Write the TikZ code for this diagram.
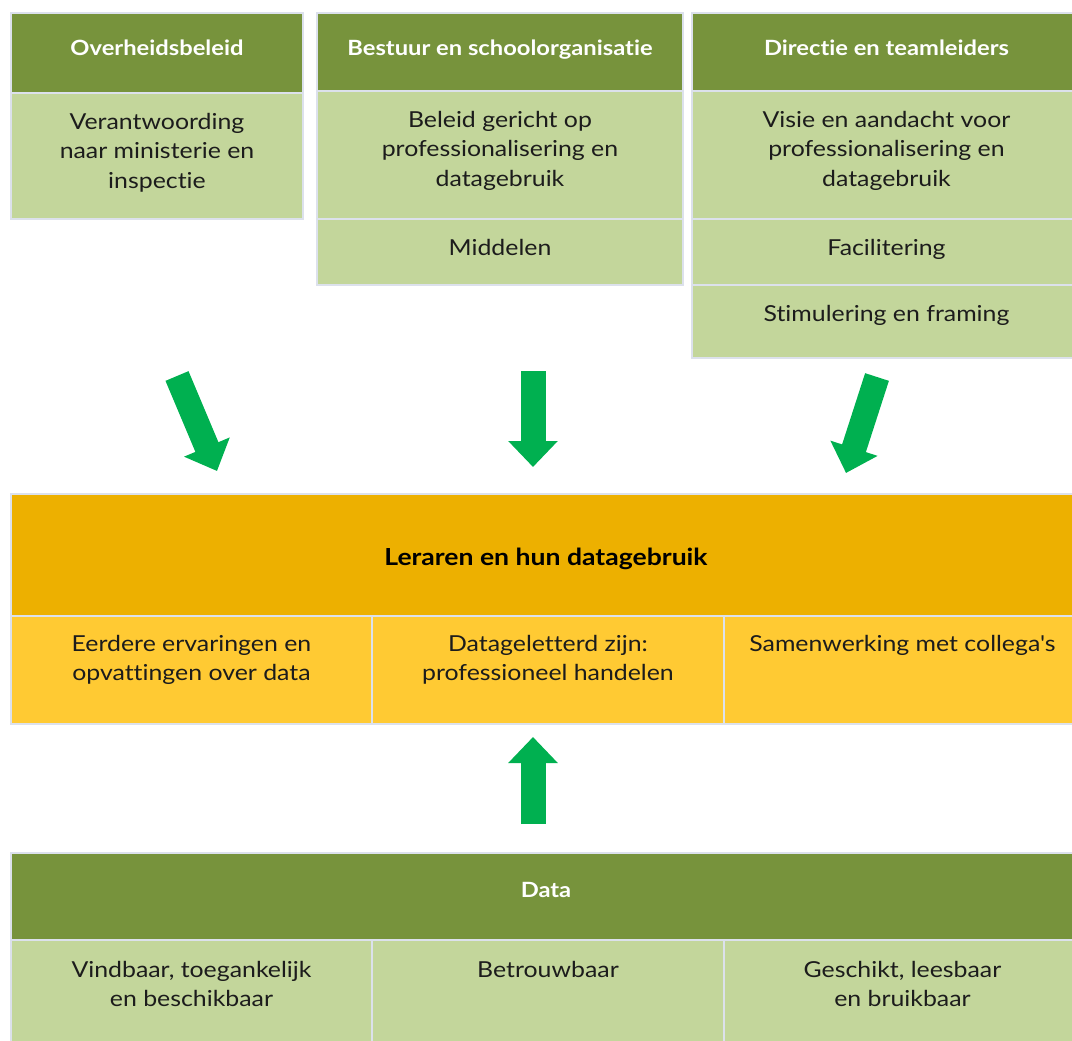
\documentclass[tikz,border=0pt]{standalone}
\usepackage{fontspec}
\setmainfont{Lato}[FakeStretch=1.13, Ligatures={TeXOff, CommonOff}]
\usetikzlibrary{arrows.meta, positioning}

\definecolor{headgreen}{HTML}{77933C}
\definecolor{cellgreen}{HTML}{C3D69B}
\definecolor{leadgold}{HTML}{EDB000}
\definecolor{cellyellow}{HTML}{FFCA33}
\definecolor{arrowgreen}{HTML}{00B050}
\definecolor{gridline}{HTML}{DCE1EC}
\definecolor{inktext}{HTML}{1C1C1C}

\tikzset{
  box/.style={draw=gridline, line width=2pt, anchor=north west, inner sep=0pt},
  headbox/.style={box, fill=headgreen},
  greenbox/.style={box, fill=cellgreen},
  goldbox/.style={box, fill=leadgold},
  yellowbox/.style={box, fill=cellyellow},
  headtext/.style={inner sep=0pt, text=white, font=\fontsize{21}{29}\selectfont\bfseries},
  celltext/.style={inner sep=0pt, align=center, text=inktext, font=\fontsize{22}{29.5}\selectfont},
  bigarrow/.style={arrowgreen, line width=25pt, -{Triangle[length=26pt, width=48pt]}}
}

\begin{document}
\begin{tikzpicture}[x=1pt, y=-1pt]
  \clip (0,0) rectangle (1072,1041);
  \useasboundingbox (0,0) rectangle (1072,1041);

  % Overheidsbeleid
  \node[headbox, minimum width=292, minimum height=80] (gov) at (10,12) {};
  \node[greenbox, minimum width=292, minimum height=126] (govbody) at (10,92) {};
  \node[headtext, below=28pt of gov.north] (govtitle) {Overheidsbeleid};
  \node[celltext, below=21pt of govbody.north] (govtext) {Verantwoording\\naar ministerie en\\inspectie};

  % Bestuur en schoolorganisatie
  \node[headbox, minimum width=366, minimum height=78] (board) at (316,12) {};
  \node[greenbox, minimum width=366, minimum height=128] (boardbody) at (316,90) {};
  \node[greenbox, minimum width=366, minimum height=66] (boardfunds) at (316,218) {};
  \node[headtext, below=28pt of board.north] (boardtitle) {Bestuur en schoolorganisatie};
  \node[celltext, below=21pt of boardbody.north] (boardtext) {Beleid gericht op\\professionalisering en\\datagebruik};
  \node[celltext, below=21pt of boardfunds.north] (fundstext) {Middelen};

  % Directie en teamleiders
  \node[headbox, minimum width=389, minimum height=78] (lead) at (691,12) {};
  \node[greenbox, minimum width=389, minimum height=128] (leadbody) at (691,90) {};
  \node[greenbox, minimum width=389, minimum height=66] (leadfacil) at (691,218) {};
  \node[greenbox, minimum width=389, minimum height=73] (leadstim) at (691,284) {};
  \node[headtext, below=28pt of lead.north] (leadtitle) {Directie en teamleiders};
  \node[celltext, below=21pt of leadbody.north] (leadtext) {Visie en aandacht voor\\professionalisering en\\datagebruik};
  \node[celltext, below=21pt of leadfacil.north] (facitext) {Facilitering};
  \node[celltext, below=21pt of leadstim.north] (stimtext) {Stimulering en framing};

  % Leraren
  \node[goldbox, minimum width=1070, minimum height=122] (teach) at (10,493) {};
  \node[yellowbox, minimum width=361, minimum height=108] (teachA) at (10,615) {};
  \node[yellowbox, minimum width=352, minimum height=108] (teachB) at (371,615) {};
  \node[yellowbox, minimum width=357, minimum height=108] (teachC) at (723,615) {};
  \node[celltext, font=\fontsize{23.5}{29}\selectfont\bfseries, text=black, below=55pt of teach.north] (teachtitle) {Leraren en hun datagebruik};
  \node[celltext, below=20pt of teachA.north] (teachAtext) {Eerdere ervaringen en\\opvattingen over data};
  \node[celltext, below=20pt of teachB.north] (teachBtext) {Datageletterd zijn:\\professioneel handelen};
  \node[celltext, below=20pt of teachC.north] (teachCtext) {Samenwerking met collega's};

  % Data
  \node[headbox, minimum width=1070, minimum height=87] (data) at (10,852) {};
  \node[greenbox, minimum width=361, minimum height=112] (dataA) at (10,939) {};
  \node[greenbox, minimum width=352, minimum height=112] (dataB) at (371,939) {};
  \node[greenbox, minimum width=357, minimum height=112] (dataC) at (723,939) {};
  \node[headtext, below=30pt of data.north] (datatitle) {Data};
  \node[celltext, below=22pt of dataA.north] (dataAtext) {Vindbaar, toegankelijk\\en beschikbaar};
  \node[celltext, below=22pt of dataB.north] (dataBtext) {Betrouwbaar};
  \node[celltext, below=22pt of dataC.north] (dataCtext) {Geschikt, leesbaar\\en bruikbaar};

  % Arrows
  \coordinate (govfrom) at (177,376);
  \coordinate (govto) at (217,471);
  \coordinate (boardfrom) at (533,371);
  \coordinate (boardto) at (533,467);
  \coordinate (leadfrom) at (877,377);
  \coordinate (leadto) at (846,473);
  \coordinate (datafrom) at (533,824);
  \coordinate (datato) at (533,737);
  \draw[bigarrow] (govfrom) -- (govto);
  \draw[bigarrow] (boardfrom) -- (boardto);
  \draw[bigarrow] (leadfrom) -- (leadto);
  \draw[bigarrow] (datafrom) -- (datato);
\end{tikzpicture}
\end{document}
